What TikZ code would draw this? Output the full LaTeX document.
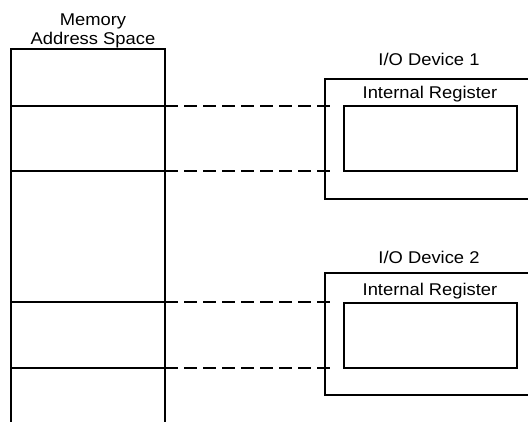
\documentclass[tikz,border=0pt]{standalone}
\usepackage{fontspec}
\setmainfont{Liberation Sans}[FakeStretch=1.08]
\begin{document}
\begin{tikzpicture}[x=1pt,y=-1pt,
  solidline/.style={line width=2pt},
  dashline/.style={line width=2pt,dash pattern=on 13pt off 6pt},
  lbl/.style={font=\fontsize{17}{19}\selectfont,inner sep=0pt,anchor=base},
  regbox/.style={draw,line width=2pt,minimum width=173pt,minimum height=65pt,inner sep=0pt}]
\useasboundingbox (0,0) rectangle (528,421);
% memory column
\coordinate (mtl) at (11,49);
\coordinate (mtr) at (165,49);
\coordinate (mbl) at (11,422);
\coordinate (mbr) at (165,422);
\draw[solidline] (mbl) -- (mtl) -- (mtr) -- (mbr);
\node[lbl] (memlbl1) at (93,25) {Memory};
\node[lbl] (memlbl2) at (93,44) {Address Space};
% partition lines
\coordinate (a1) at (11,106);
\coordinate (b1) at (165,106);
\coordinate (a2) at (11,171);
\coordinate (b2) at (165,171);
\coordinate (a3) at (11,302);
\coordinate (b3) at (165,302);
\coordinate (a4) at (11,368);
\coordinate (b4) at (165,368);
\draw[solidline] (a1) -- (b1) (a2) -- (b2) (a3) -- (b3) (a4) -- (b4);
% device 1
\draw[solidline] (529,79) -- (325,79) -- (325,199) -- (529,199);
\node[lbl] (dev1) at (429,65) {I/O Device 1};
\node[regbox] (reg1) at (430,138.5) {};
\node[lbl] (rl1) at (430,98) {Internal Register};
% device 2
\draw[solidline] (529,273) -- (325,273) -- (325,395) -- (529,395);
\node[lbl] (dev2) at (429,263) {I/O Device 2};
\node[regbox] (reg2) at (430,335) {};
\node[lbl] (rl2) at (430,295.5) {Internal Register};
% dashed links
\coordinate (e1) at (336,106);
\coordinate (e2) at (336,171);
\coordinate (e3) at (336,302);
\coordinate (e4) at (336,368);
\draw[dashline] (b1) -- (e1);
\draw[dashline] (b2) -- (e2);
\draw[dashline] (b3) -- (e3);
\draw[dashline] (b4) -- (e4);
\end{tikzpicture}
\end{document}
